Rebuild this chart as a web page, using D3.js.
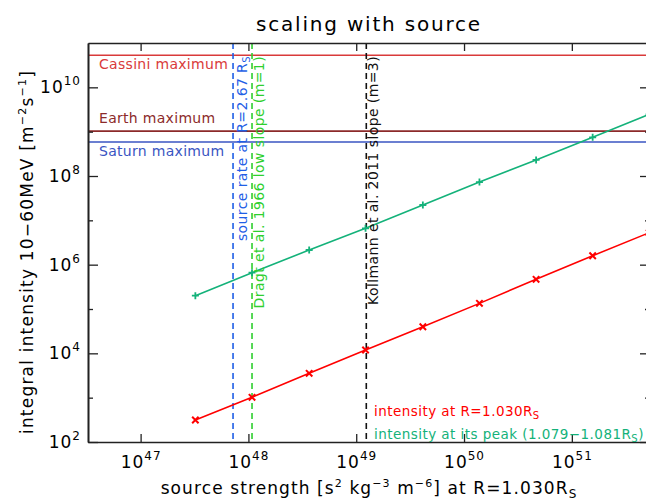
<!DOCTYPE html>
<html>
<head>
<meta charset="utf-8">
<script src="https://cdn.jsdelivr.net/npm/d3@7"></script>
<style>
  body { margin: 0; background: #fff; }
  text { font-family: "DejaVu Sans", sans-serif; }
</style>
</head>
<body>
<div id="chart"></div>
<script>
// data
const sourceStrength = [3.22e47, 1.08e48, 3.66e48, 1.22e49, 4.15e49, 1.39e50, 4.66e50, 1.56e51, 5.21e51];
const intensityR1030 = [313, 1020, 3540, 1.19e4, 3.98e4, 1.34e5, 4.68e5, 1.59e6, 5.25e6];
const intensityPeak = [2.0e5, 6.6e5, 2.14e6, 6.6e6, 2.22e7, 7.3e7, 2.30e8, 7.46e8, 2.45e9];

const limitNames = ["Cassini maximum", "Earth maximum", "Saturn maximum"];
const limitValues = [5.28e10, 1.03e9, 5.85e8];

const slopeNames = ["source rate at R=2.67 R", "Dragt et al. 1966 low slope (m=1)", "Kollmann et al. 2011 slope (m=3)"];
const slopeValues = [7.2e47, 1.08e48, 1.24e49];

const xTicks = [1e47, 1e48, 1e49, 1e50, 1e51];
const yTicks = [1e2, 1e4, 1e6, 1e8, 1e10];
const yMinorTicks = [1e3, 1e5, 1e7, 1e9];

var width = 646, height = 501;
var plotLeft = 88, plotRight = 650, plotTop = 43, plotBottom = 442;

var svg = d3.select("#chart").append("svg")
  .attr("width", width)
  .attr("height", height);

var x = d3.scaleLog().domain([Math.pow(10, 46.512), Math.pow(10, 51.725)]).range([plotLeft, plotRight]);
var y = d3.scaleLog().domain([1e2, 1e11]).range([plotBottom, plotTop]);

svg.append("clipPath").attr("id", "plot-clip")
  .append("rect").attr("x", plotLeft).attr("y", plotTop)
  .attr("width", plotRight - plotLeft).attr("height", plotBottom - plotTop);

var plot = svg.append("g").attr("clip-path", "url(#plot-clip)");

// horizontal limits
var limitColors = ["#d93a3a", "#8c2a2a", "#3a55c2"];
var limitLabelDy = [14, -8, 14];
limitValues.forEach(function (v, i) {
  plot.append("line")
    .attr("x1", plotLeft).attr("x2", plotRight)
    .attr("y1", y(v)).attr("y2", y(v))
    .attr("stroke", limitColors[i]).attr("stroke-width", 1.6);
  svg.append("text")
    .attr("x", plotLeft + 11).attr("y", y(v) + limitLabelDy[i])
    .style("font-size", "14px").style("letter-spacing", "0.3px").style("fill", limitColors[i])
    .text(limitNames[i]);
});

// vertical dashed reference lines, labels read upwards to the right of each line
var slopeColors = ["#1f5fe6", "#2fcf2f", "#111111"];
var slopeBaseline = [14, 12, 12];
slopeValues.forEach(function (v, i) {
  plot.append("line")
    .attr("x1", x(v)).attr("x2", x(v))
    .attr("y1", plotTop).attr("y2", plotBottom)
    .attr("stroke", slopeColors[i]).attr("stroke-width", 1.6)
    .attr("stroke-dasharray", "6,4");
  var t = svg.append("text")
    .attr("transform", "translate(" + (x(v) + slopeBaseline[i]) + "," + (plotTop + 13) + ") rotate(-90)")
    .style("text-anchor", "end")
    .style("font-size", "14px").style("letter-spacing", "0.4px").style("fill", slopeColors[i])
    .text(slopeNames[i]);
  if (i === 0) t.append("tspan").attr("dy", 3).style("font-size", "10px").text("S");
});

// series
var redColor = "#ff0000", greenColor = "#14b27a";
var line = d3.line().x(function (d) { return x(d[0]); }).y(function (d) { return y(d[1]); });
var peakData = d3.zip(sourceStrength, intensityPeak);
var r1030Data = d3.zip(sourceStrength, intensityR1030);

plot.append("path").datum(peakData).attr("d", line)
  .attr("fill", "none").attr("stroke", greenColor).attr("stroke-width", 1.6);
plot.append("path").datum(r1030Data).attr("d", line)
  .attr("fill", "none").attr("stroke", redColor).attr("stroke-width", 1.6);

plot.selectAll("peakMarks").data(peakData).enter()
  .append("path")
  .attr("d", function (d) {
    var px = x(d[0]), py = y(d[1]), s = 3.5;
    return "M" + (px - s) + "," + py + "H" + (px + s) + "M" + px + "," + (py - s) + "V" + (py + s);
  })
  .attr("stroke", greenColor).attr("stroke-width", 1.8);

plot.selectAll("r1030Marks").data(r1030Data).enter()
  .append("path")
  .attr("d", function (d) {
    var px = x(d[0]), py = y(d[1]), s = 3.2;
    return "M" + (px - s) + "," + (py - s) + "L" + (px + s) + "," + (py + s) +
      "M" + (px - s) + "," + (py + s) + "L" + (px + s) + "," + (py - s);
  })
  .attr("stroke", redColor).attr("stroke-width", 2);

// axes
var axisColor = "#222";
function powerLabel(sel) {
  sel.each(function (d) {
    var t = d3.select(this);
    t.text("");
    t.append("tspan").text("10");
    t.append("tspan").attr("dy", -8).style("font-size", "12px").text(Math.round(Math.log10(d)));
  });
}

var gx = svg.append("g").attr("transform", "translate(0," + plotBottom + ")")
  .call(d3.axisBottom(x).tickValues(xTicks).tickSizeInner(-8).tickSizeOuter(0).tickPadding(14));
gx.selectAll(".tick text").style("font-size", "17px").style("letter-spacing", "1px")
  .style("fill", "#000").call(powerLabel);

svg.append("g").attr("transform", "translate(0," + plotTop + ")")
  .call(d3.axisTop(x).tickValues(xTicks).tickSizeInner(-8).tickSizeOuter(0).tickFormat(""));

var gy = svg.append("g").attr("transform", "translate(" + plotLeft + ",0)")
  .call(d3.axisLeft(y).tickValues(yTicks).tickSizeInner(-10).tickSizeOuter(0).tickPadding(7));
gy.selectAll(".tick text").style("font-size", "17px").style("letter-spacing", "1px")
  .style("fill", "#000").call(powerLabel);

svg.append("g").attr("transform", "translate(" + plotLeft + ",0)")
  .call(d3.axisLeft(y).tickValues(yMinorTicks).tickSizeInner(-5).tickSizeOuter(0).tickFormat(""));
svg.append("g").attr("transform", "translate(" + plotRight + ",0)")
  .call(d3.axisRight(y).tickValues(yTicks).tickSizeInner(-10).tickSizeOuter(0).tickFormat(""));
svg.append("g").attr("transform", "translate(" + plotRight + ",0)")
  .call(d3.axisRight(y).tickValues(yMinorTicks).tickSizeInner(-5).tickSizeOuter(0).tickFormat(""));

svg.selectAll(".domain").attr("stroke", axisColor).attr("stroke-width", 1.6);
svg.selectAll(".tick line").attr("stroke", axisColor).attr("stroke-width", 1.3);

// titles
svg.append("text")
  .attr("x", (plotLeft + plotRight) / 2).attr("y", 31)
  .style("text-anchor", "middle").style("font-size", "20px").style("letter-spacing", "1.8px")
  .text("scaling with source");

var xt = svg.append("text")
  .attr("x", (plotLeft + plotRight) / 2).attr("y", 494)
  .style("text-anchor", "middle").style("font-size", "17px").style("letter-spacing", "1.1px");
xt.append("tspan").text("source strength [s");
xt.append("tspan").attr("dy", -7).style("font-size", "11px").text("2");
xt.append("tspan").attr("dy", 7).text(" kg");
xt.append("tspan").attr("dy", -7).style("font-size", "11px").text("\u22123");
xt.append("tspan").attr("dy", 7).text(" m");
xt.append("tspan").attr("dy", -7).style("font-size", "11px").text("\u22126");
xt.append("tspan").attr("dy", 7).text("] at R=1.030R");
xt.append("tspan").attr("dy", 4).style("font-size", "12px").text("S");

var yt = svg.append("text")
  .attr("transform", "translate(33,252) rotate(-90)")
  .style("text-anchor", "middle").style("font-size", "17px").style("letter-spacing", "1.2px");
yt.append("tspan").text("integral intensity 10\u221260MeV [m");
yt.append("tspan").attr("dy", -7).style("font-size", "11px").text("\u22122");
yt.append("tspan").attr("dy", 7).text("s");
yt.append("tspan").attr("dy", -7).style("font-size", "11px").text("\u22121");
yt.append("tspan").attr("dy", 7).text("]");

// legend
var legendX = 374;
var l1 = svg.append("text").attr("x", legendX).attr("y", 416)
  .style("font-size", "13.5px").style("letter-spacing", "0.45px").style("fill", redColor);
l1.append("tspan").text("intensity at R=1.030R");
l1.append("tspan").attr("dy", 3).style("font-size", "10px").text("S");
var l2 = svg.append("text").attr("x", legendX).attr("y", 439)
  .style("font-size", "13.5px").style("letter-spacing", "0.45px").style("fill", greenColor);
l2.append("tspan").text("intensity at its peak (1.079\u22121.081R");
l2.append("tspan").attr("dy", 3).style("font-size", "10px").text("S");
l2.append("tspan").attr("dy", -3).text(")");
</script>
</body>
</html>
